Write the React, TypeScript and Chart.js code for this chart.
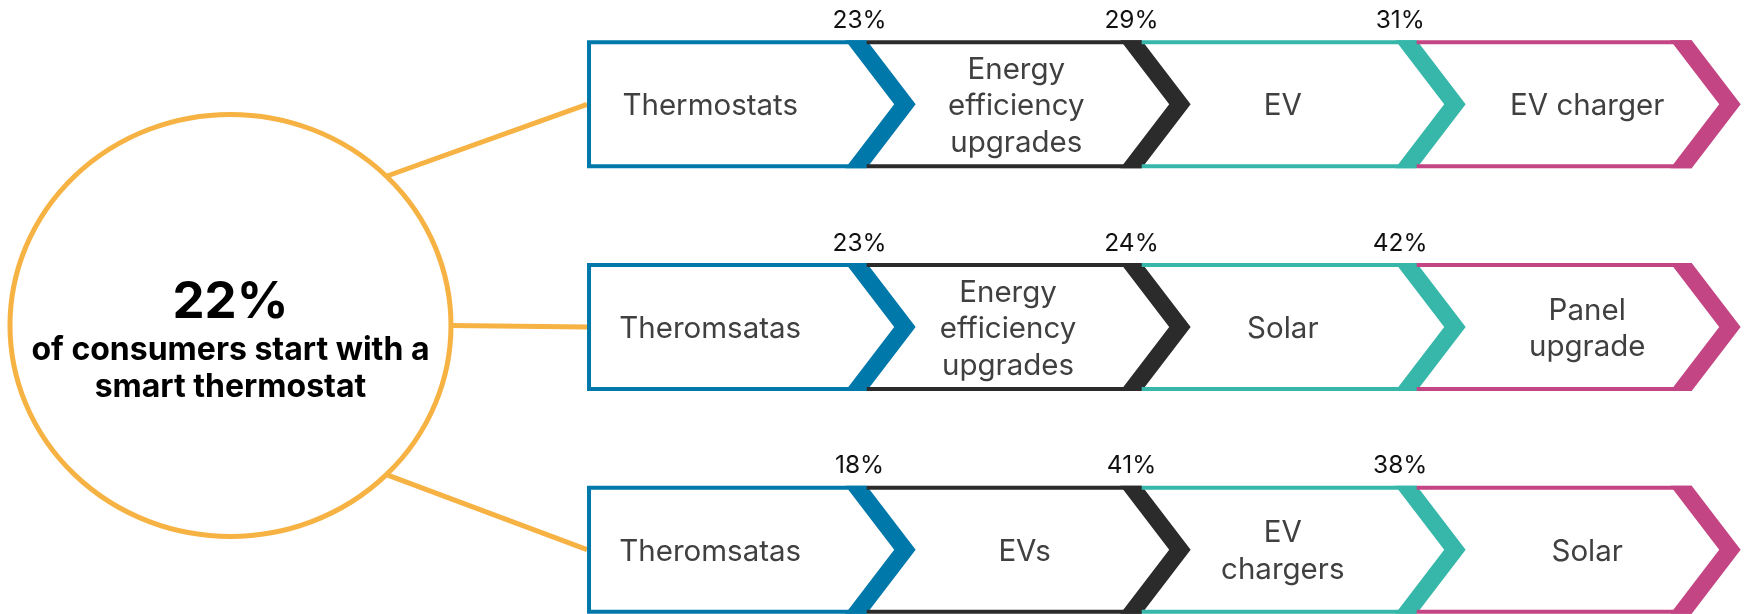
import React, { useEffect, useRef } from "react";
import { Chart, registerables } from "chart.js";

Chart.register(...registerables);

// ---------- data ----------
const startShare = 22;
const startCaption = ["of consumers start with a", "smart thermostat"];

const path1Steps = ["Thermostats", "Energy\nefficiency\nupgrades", "EV", "EV charger"];
const path2Steps = ["Theromsatas", "Energy\nefficiency\nupgrades", "Solar", "Panel\nupgrade"];
const path3Steps = ["Theromsatas", "EVs", "EV\nchargers", "Solar"];

const path1Shares = [23, 29, 31];
const path2Shares = [23, 24, 42];
const path3Shares = [18, 41, 38];

const paths = [path1Steps, path2Steps, path3Steps];
const shares = [path1Shares, path2Shares, path3Shares];

// ---------- styles / layout (axis units: x = step index, y = path row) ----------
const stepColors = ["#0078AA", "#2B2B2B", "#36B7AA", "#C44583"];
const ringColor = "#F6B243";
const labelColor = "#404040";
const FONT = 'Inter, "Noto Sans", Roboto, sans-serif';

const X_MIN = -2.1516;
const X_MAX = 4.2047;
const Y_MIN = -0.4684;
const Y_MAX = 2.2887;

const BOX_LEFT = -0.017; // left edge of first step box
const HALF_H = 0.2874; // half box height (rows)
const CHEV_DEPTH = 0.178; // chevron depth (steps)
const CHEV_BAND = 0.078; // chevron band thickness (steps)
const BORDER = 4;

const RING_X = -1.3135;
const RING_Y = 0.993;
const RING_RX = 0.8018;
const RING_RY = 0.9475;

const labelCenters = [0.431, 1.544, 2.513, 3.62]; // step units
const labelNudge = [
  [0, 0, 0, 0],
  [0, -0.03, 0, 0],
  [0, 0.03, 0, 0],
];
const shareOffsets = [-0.026, -0.037, -0.06]; // from step boundary

const connectorAngles = [-45, 0, 45];

function App() {
  const ref = useRef<HTMLCanvasElement | null>(null);

  useEffect(() => {
    if (!ref.current) return;

    const connectors = connectorAngles.map((deg, r) => {
      const a = (deg * Math.PI) / 180;
      return {
        type: "line" as const,
        data: [
          { x: RING_X + RING_RX * Math.cos(a), y: RING_Y + RING_RY * Math.sin(a) },
          { x: BOX_LEFT, y: r },
        ],
        showLine: true,
        borderColor: ringColor,
        borderWidth: 5,
        pointRadius: 0,
        borderCapStyle: "butt" as const,
      };
    });

    const diagram = {
      id: "pathDiagram",
      afterDatasetsDraw(chart: any) {
        const { ctx } = chart;
        const xs = chart.scales.x;
        const ys = chart.scales.y;
        const X = (v: number) => xs.getPixelForValue(v);
        const Y = (v: number) => ys.getPixelForValue(v);
        ctx.save();

        // ring
        const cx = X(RING_X);
        const cy = Y(RING_Y);
        ctx.beginPath();
        ctx.ellipse(cx, cy, X(RING_X + RING_RX) - cx, Y(RING_Y + RING_RY) - cy, 0, 0, Math.PI * 2);
        ctx.fillStyle = "#ffffff";
        ctx.fill();
        ctx.lineWidth = 5;
        ctx.strokeStyle = ringColor;
        ctx.stroke();

        ctx.fillStyle = "#000000";
        ctx.textAlign = "center";
        ctx.textBaseline = "alphabetic";
        ctx.font = `bold 51px ${FONT}`;
        ctx.fillText(`${startShare}%`, cx, cy - 7.5);
        ctx.font = `bold 32px ${FONT}`;
        startCaption.forEach((line, i) => {
          ctx.fillText(line, cx, cy + 34.5 + i * 36.7);
        });

        // paths
        paths.forEach((steps, r) => {
          const mid = Y(r);
          const top = Y(r - HALF_H);
          const bot = Y(r + HALF_H);
          steps.forEach((label, k) => {
            const color = stepColors[k];
            const left = k === 0 ? X(BOX_LEFT) : X(k);
            const right = X(k + 1);
            ctx.strokeStyle = color;
            ctx.lineWidth = BORDER;
            ctx.lineJoin = "miter";
            ctx.lineCap = "butt";
            ctx.beginPath();
            if (k === 0) {
              ctx.moveTo(right, top + BORDER / 2);
              ctx.lineTo(left + BORDER / 2, top + BORDER / 2);
              ctx.lineTo(left + BORDER / 2, bot - BORDER / 2);
              ctx.lineTo(right, bot - BORDER / 2);
            } else {
              ctx.moveTo(left, top + BORDER / 2);
              ctx.lineTo(right, top + BORDER / 2);
              ctx.moveTo(left, bot - BORDER / 2);
              ctx.lineTo(right, bot - BORDER / 2);
            }
            ctx.stroke();

            // chevron band
            const b0 = X(k + 1 - CHEV_BAND);
            const b1 = X(k + 1);
            const t1 = X(k + 1 + CHEV_DEPTH);
            const t0 = X(k + 1 + CHEV_DEPTH - CHEV_BAND);
            ctx.beginPath();
            ctx.moveTo(b0, top);
            ctx.lineTo(b1, top);
            ctx.lineTo(t1, mid);
            ctx.lineTo(b1, bot);
            ctx.lineTo(b0, bot);
            ctx.lineTo(t0, mid);
            ctx.closePath();
            ctx.fillStyle = color;
            ctx.fill();

            // label
            const lines = label.split("\n");
            ctx.fillStyle = labelColor;
            ctx.font = `400 29.5px ${FONT}`;
            ctx.textAlign = "center";
            const lx = X(labelCenters[k] + labelNudge[r][k]);
            const lh = 36.5;
            lines.forEach((ln, i) => {
              const off = (i - (lines.length - 1) / 2) * lh;
              ctx.fillText(ln, lx, mid + 11 + off);
            });
          });

          // shares
          shares[r].forEach((v, k) => {
            ctx.fillStyle = "#111111";
            ctx.font = `400 24.5px ${FONT}`;
            ctx.textAlign = "center";
            ctx.fillText(`${v}%`, X(k + 1 + shareOffsets[k]), top - 12.5);
          });
        });

        ctx.restore();
      },
    };

    const chart = new Chart(ref.current, {
      type: "scatter",
      data: { datasets: connectors as any },
      options: {
        animation: false,
        responsive: true,
        maintainAspectRatio: false,
        events: [],
        layout: { padding: 0 },
        plugins: { legend: { display: false }, tooltip: { enabled: false } },
        scales: {
          x: { type: "linear", display: false, min: X_MIN, max: X_MAX },
          y: { type: "linear", display: false, min: Y_MIN, max: Y_MAX, reverse: true },
        },
      },
      plugins: [diagram],
    });
    return () => chart.destroy();
  }, []);

  return (
    <div style={{ position: "absolute", left: 0, top: 0, width: 1748, height: 614, background: "#ffffff" }}>
      <canvas ref={ref} />
    </div>
  );
}

export default App;
